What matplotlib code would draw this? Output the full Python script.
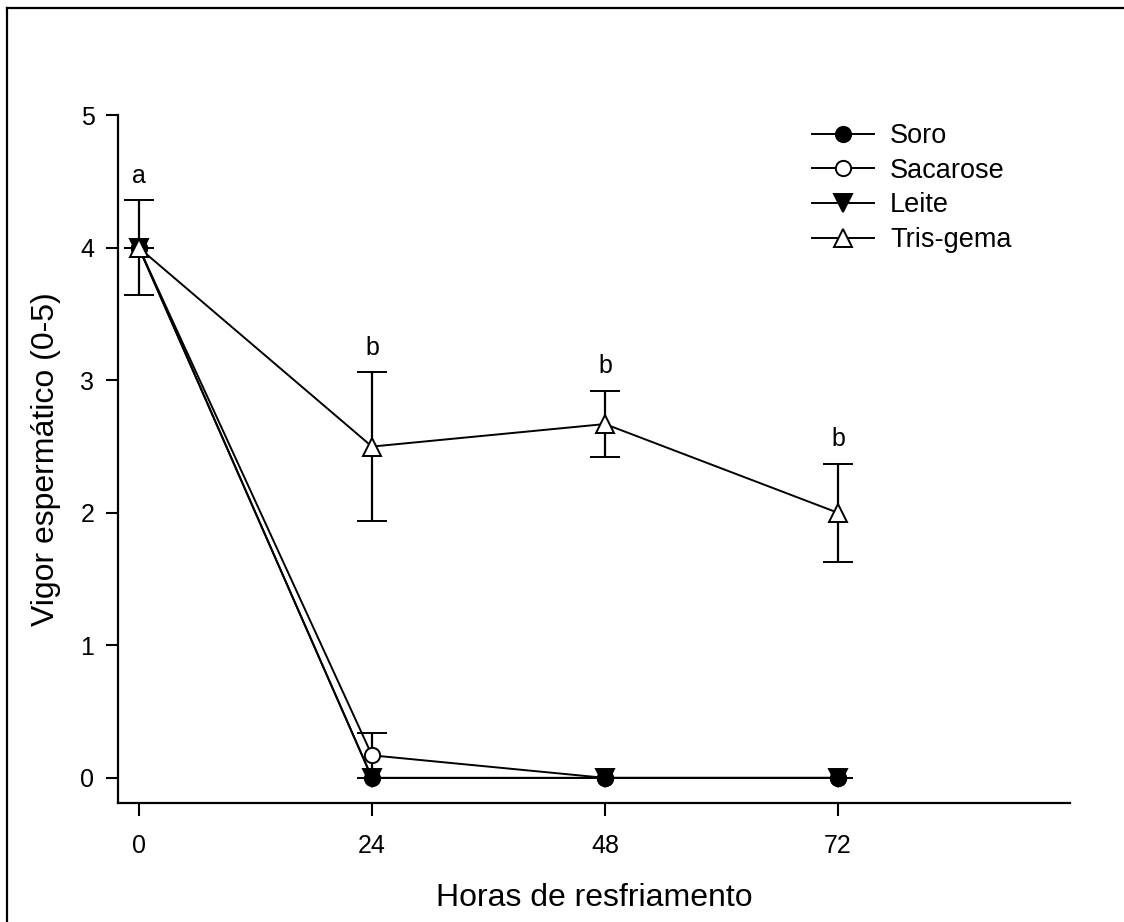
import matplotlib
matplotlib.use("Agg")
import matplotlib.pyplot as plt
from matplotlib.lines import Line2D

plt.rcParams['font.family'] = ['Liberation Sans', 'DejaVu Sans']

# Data
hours = [0, 24, 48, 72]
soro = [4.0, 0.0, 0.0, 0.0]
sacarose = [4.0, 0.17, 0.0, 0.0]
sacarose_err = [0.0, 0.17, 0.0, 0.0]
leite = [4.0, 0.0, 0.0, 0.0]
tris_gema = [4.0, 2.5, 2.67, 2.0]
tris_gema_err = [0.36, 0.56, 0.25, 0.37]
letters = ['a', 'b', 'b', 'b']
yticks = [0, 1, 2, 3, 4, 5]

series_names = ['Soro', 'Sacarose', 'Leite', 'Tris-gema']
markers = ['o', 'o', 'v', '^']
facecolors = ['black', 'white', 'black', 'white']
msizes = [11, 11, 12.5, 12.5]

fig = plt.figure(figsize=(11.24, 9.22), dpi=100)
ax = fig.add_axes([0.105, 0.129, 0.847, 0.746])

line_kw = dict(color='black', linewidth=1.4,
               markeredgecolor='black', markeredgewidth=1.4)
err_kw = dict(ecolor='black', elinewidth=1.6, capsize=11, capthick=1.6)

ax.errorbar(hours, sacarose, yerr=sacarose_err, marker=markers[1],
            markerfacecolor=facecolors[1], markersize=msizes[1], zorder=2,
            **line_kw, **err_kw)
ax.plot(hours, leite, marker=markers[2], markerfacecolor=facecolors[2],
        markersize=msizes[2], zorder=3, **line_kw)
ax.plot(hours, soro, marker=markers[0], markerfacecolor=facecolors[0],
        markersize=msizes[0], zorder=4, **line_kw)
ax.errorbar(hours, tris_gema, yerr=tris_gema_err, marker=markers[3],
            markerfacecolor=facecolors[3], markersize=msizes[3], zorder=5,
            **line_kw, **err_kw)

# significance letters above the Tris-gema error bars
for x, m, e, txt in zip(hours, tris_gema, tris_gema_err, letters):
    ax.annotate(txt, (x, m + e), xytext=(0, 9), textcoords='offset points',
                ha='center', va='bottom', fontsize=18)

ax.set_xlim(-2.16, 95.9)
ax.set_ylim(-0.19, 5)
ax.set_xticks(hours)
ax.set_yticks(yticks)
ax.tick_params(direction='out', length=9, width=1.5, labelsize=18)
ax.tick_params(axis='x', pad=13)
ax.tick_params(axis='y', pad=8)
for side in ['top', 'right']:
    ax.spines[side].set_visible(False)
for side in ['left', 'bottom']:
    ax.spines[side].set_linewidth(1.6)

ax.set_xlabel('Horas de resfriamento', fontsize=23, labelpad=18)
ax.set_ylabel('Vigor espermático (0-5)', fontsize=23, labelpad=14)

# legend: plain line + marker handles
handles = [Line2D([], [], marker=mk, markerfacecolor=fc, markersize=ms,
                  **line_kw)
           for mk, fc, ms in zip(markers, facecolors, msizes)]
ax.legend(handles, series_names, loc='upper left',
          bbox_to_anchor=(0.703, 1.024), frameon=False, fontsize=19.5,
          handlelength=2.3, handletextpad=0.6, labelspacing=0.32)

# outer frame (only left and top edges visible in the reference)
fig.add_artist(Line2D([0.0065, 0.0065], [0, 0.991], color='black',
                      linewidth=1.6, transform=fig.transFigure))
fig.add_artist(Line2D([0.0065, 1.0], [0.991, 0.991], color='black',
                      linewidth=1.6, transform=fig.transFigure))

fig.savefig('out.png', dpi=100)
